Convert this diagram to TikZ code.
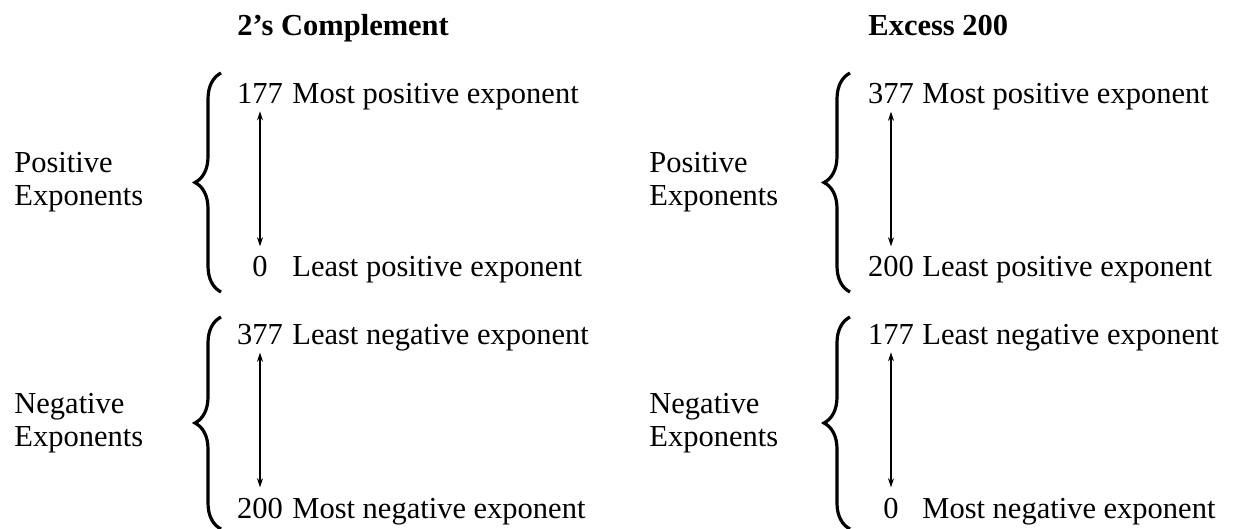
\documentclass[tikz,border=0pt]{standalone}
\usepackage{fontspec}
\setmainfont{Liberation Serif}
\usepackage{tikz}
\usetikzlibrary{arrows.meta,decorations.pathreplacing}

\tikzset{
  txt/.style={inner sep=0pt,font=\fontsize{15.25}{16.5}\selectfont},
  head/.style={txt,font=\fontsize{15.25}{16.5}\selectfont\bfseries,anchor=base west},
  num/.style={txt,anchor=base},
  lbl/.style={txt,anchor=base west},
  grp/.style={txt,anchor=west,align=left},
  curly/.style={decorate,decoration={brace,amplitude=13pt},line width=1.6pt},
  spanarrow/.style={{Stealth[length=4.5pt,width=3pt]}-{Stealth[length=4.5pt,width=3pt]},line width=0.7pt},
}

\begin{document}
\begin{tikzpicture}[x=0.5pt,y=0.5pt,yscale=-1,xscale=1]
\useasboundingbox (0,0) rectangle (1238,529);

% Text Node
\node[head] (twoscomp) at (237,36) {2's Complement};
% Text Node
\node[head] (excess) at (868,36) {Excess 200};

%Shape: Brace
\draw[curly] (221,292) -- (221,73);
%Shape: Brace
\draw[curly] (221,529) -- (221,317);
%Shape: Brace
\draw[curly] (850,292) -- (850,73);
%Shape: Brace
\draw[curly] (850,529) -- (850,317);

% Text Node
\node[grp] (lpos) at (14,182) {Positive\\Exponents};
% Text Node
\node[grp] (lneg) at (14,423) {Negative\\Exponents};
% Text Node
\node[grp] (rpos) at (649,182) {Positive\\Exponents};
% Text Node
\node[grp] (rneg) at (649,423) {Negative\\Exponents};

% Text Node
\node[num] (ltop) at (260,104) {177};
\node[lbl] (ltoptxt) at (292,104) {Most positive exponent};
% Text Node
\node[num] (lmid) at (260,277) {0};
\node[lbl] (lmidtxt) at (292,277) {Least positive exponent};
% Text Node
\node[num] (lneg1) at (260,345) {377};
\node[lbl] (lneg1txt) at (292,345) {Least negative exponent};
% Text Node
\node[num] (lbot) at (260,518) {200};
\node[lbl] (lbottxt) at (292,518) {Most negative exponent};

% Text Node
\node[num] (rtop) at (891,104) {377};
\node[lbl] (rtoptxt) at (922,104) {Most positive exponent};
% Text Node
\node[num] (rmid) at (891,277) {200};
\node[lbl] (rmidtxt) at (922,277) {Least positive exponent};
% Text Node
\node[num] (rneg1) at (891,345) {177};
\node[lbl] (rneg1txt) at (922,345) {Least negative exponent};
% Text Node
\node[num] (rbot) at (891,518) {0};
\node[lbl] (rbottxt) at (922,518) {Most negative exponent};

%Straight Lines
\draw[spanarrow] ([yshift=3.5pt]ltop.south) -- ([yshift=-5pt]lmid.north);
%Straight Lines
\draw[spanarrow] ([yshift=3.5pt]lneg1.south) -- ([yshift=-5pt]lbot.north);
%Straight Lines
\draw[spanarrow] ([yshift=3.5pt]rtop.south) -- ([yshift=-5pt]rmid.north);
%Straight Lines
\draw[spanarrow] ([yshift=3.5pt]rneg1.south) -- ([yshift=-5pt]rbot.north);

\end{tikzpicture}
\end{document}
